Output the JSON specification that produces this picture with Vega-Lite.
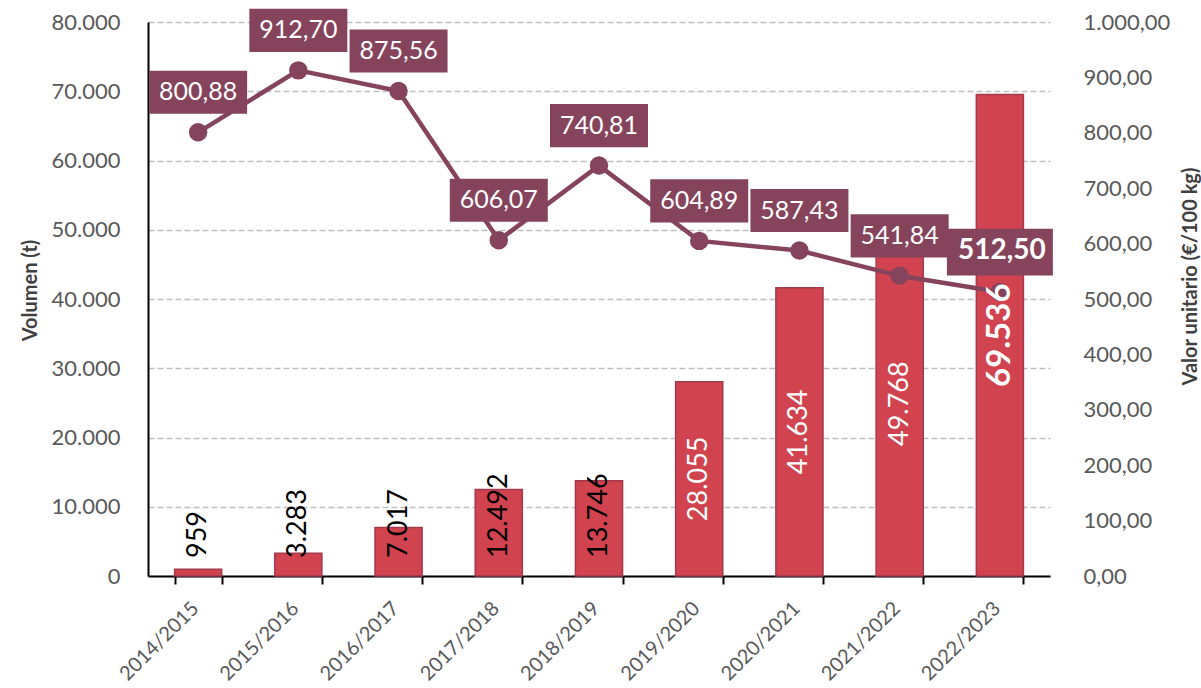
{
  "$schema": "https://vega.github.io/schema/vega-lite/v6.json",
  "width": 902,
  "height": 554,
  "autosize": {"type": "none"},
  "padding": {"left": 148, "top": 22, "right": 151, "bottom": 112},
  "background": "white",
  "config": {
    "view": {"stroke": null},
    "font": "Lato",
    "locale": {"number": {"decimal": ",", "thousands": ".", "grouping": [3], "currency": ["", " €"]}}
  },
  "data": {
    "values": [
      {"season": "2014/2015", "vol": 959, "price": 800.88},
      {"season": "2015/2016", "vol": 3283, "price": 912.70},
      {"season": "2016/2017", "vol": 7017, "price": 875.56},
      {"season": "2017/2018", "vol": 12492, "price": 606.07},
      {"season": "2018/2019", "vol": 13746, "price": 740.81},
      {"season": "2019/2020", "vol": 28055, "price": 604.89},
      {"season": "2020/2021", "vol": 41634, "price": 587.43},
      {"season": "2021/2022", "vol": 49768, "price": 541.84},
      {"season": "2022/2023", "vol": 69536, "price": 512.50}
    ]
  },
  "layer": [
    {
      "encoding": {
        "x": {
          "field": "season", "type": "nominal", "sort": null,
          "scale": {"paddingInner": 0.53, "paddingOuter": 0.265},
          "axis": {
            "title": null, "labelAngle": -45, "labelAlign": "right", "labelBaseline": "middle",
            "labelFontSize": 20, "labelColor": "#595959", "labelOffset": -3,
            "domainColor": "#000000", "domainWidth": 2, "tickColor": "#000000", "tickWidth": 2,
            "tickSize": 8, "tickBand": "extent", "labelPadding": 21, "grid": false
          }
        }
      },
      "layer": [
        {
          "mark": {"type": "bar", "fill": "#D1434F", "stroke": "#A3394D", "strokeWidth": 1.5},
          "encoding": {
            "y": {
              "field": "vol", "type": "quantitative",
              "scale": {"domain": [0, 80000], "nice": false},
              "axis": {
                "title": "Volumen (t)", "format": ",.0f",
                "values": [0, 10000, 20000, 30000, 40000, 50000, 60000, 70000, 80000],
                "grid": true, "gridDash": [6, 3], "gridColor": "#BFBFBF", "gridWidth": 1.5,
                "domainColor": "#000000", "domainWidth": 2, "ticks": false, "tickSize": 0,
                "labelPadding": 28, "labelFontSize": 22, "labelColor": "#595959",
                "titleFontSize": 20, "titleFontWeight": "bold", "titleColor": "#404040",
                "titleX": -118, "titleY": 268, "titleAngle": 270, "titleAlign": "center", "titleBaseline": "middle"
              }
            }
          }
        },
        {
          "transform": [{"filter": "datum.vol < 20000"}],
          "mark": {"type": "text", "angle": 270, "align": "left", "baseline": "middle", "dx": 18, "fontSize": 27, "color": "#000000"},
          "encoding": {
            "y": {"datum": 0, "type": "quantitative"},
            "text": {"field": "vol", "type": "quantitative", "format": ",.0f"}
          }
        }
      ]
    },
    {
      "encoding": {
        "x": {"field": "season", "type": "nominal", "sort": null},
        "y": {
          "field": "price", "type": "quantitative",
          "scale": {"domain": [0, 1000], "nice": false},
          "axis": {
            "orient": "right", "title": "Valor unitario  (€/100 kg)", "format": ",.2f",
            "values": [0, 100, 200, 300, 400, 500, 600, 700, 800, 900, 1000],
            "grid": false, "domain": false, "ticks": false, "tickSize": 0,
            "labelPadding": 33, "labelFontSize": 22, "labelColor": "#595959",
            "titleFontSize": 20, "titleFontWeight": "bold", "titleColor": "#404040",
            "titleX": 140, "titleY": 254, "titleAngle": 270, "titleAlign": "center", "titleBaseline": "middle"
          }
        }
      },
      "layer": [
        {"mark": {"type": "line", "color": "#86445C", "strokeWidth": 4.5}},
        {"mark": {"type": "point", "shape": "circle", "filled": true, "opacity": 1, "color": "#86445C", "size": 340}},
        {
          "mark": {"type": "point", "shape": "M-1,-0.44L1,-0.44L1,0.44L-1,0.44Z", "filled": true, "opacity": 1, "color": "#86445C", "yOffset": -40},
          "encoding": {
            "size": {"condition": {"test": "datum.season === '2022/2023'", "value": 11236}, "value": 9604}
          }
        },
        {
          "transform": [{"filter": "datum.season !== '2022/2023'"}],
          "mark": {"type": "text", "color": "#FFFFFF", "baseline": "middle", "align": "center", "dy": -40, "fontSize": 25},
          "encoding": {
            "text": {"field": "price", "type": "quantitative", "format": ",.2f"}
          }
        },
        {
          "transform": [{"filter": "datum.season === '2022/2023'"}],
          "mark": {"type": "text", "color": "#FFFFFF", "baseline": "middle", "align": "center", "dy": -41, "dx": 2, "fontSize": 28, "fontWeight": "bold"},
          "encoding": {
            "text": {"field": "price", "type": "quantitative", "format": ",.2f"}
          }
        }
      ]
    },
    {
      "encoding": {
        "x": {"field": "season", "type": "nominal", "sort": null},
        "y": {"field": "vol", "type": "quantitative", "scale": {"domain": [0, 160000], "nice": false}, "axis": null},
        "text": {"field": "vol", "type": "quantitative", "format": ",.0f"}
      },
      "layer": [
        {
          "transform": [{"filter": "datum.vol >= 20000 && datum.vol < 60000"}],
          "mark": {"type": "text", "angle": 270, "align": "center", "baseline": "middle", "color": "#FFFFFF", "fontSize": 27}
        },
        {
          "transform": [{"filter": "datum.vol >= 60000"}],
          "mark": {"type": "text", "angle": 270, "align": "center", "baseline": "middle", "color": "#FFFFFF", "fontSize": 33, "fontWeight": "bold"}
        }
      ]
    }
  ],
  "resolve": {"scale": {"y": "independent"}}
}
